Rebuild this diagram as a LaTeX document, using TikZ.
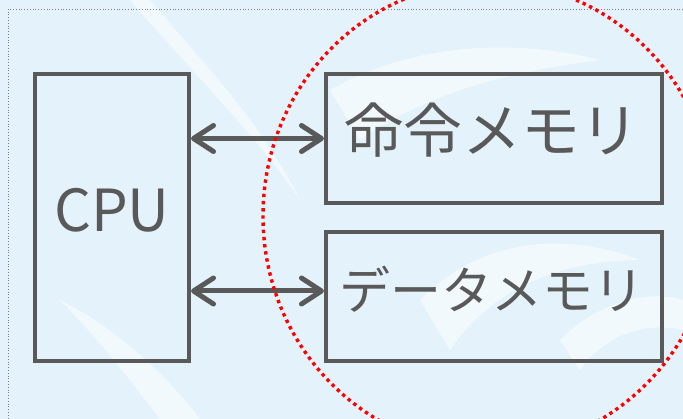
\documentclass[tikz,border=0pt]{standalone}
\usepackage{fontspec}
\newfontfamily\jp{Noto Sans CJK JP}
\usetikzlibrary{arrows.meta,calc}
\definecolor{bgblue}{HTML}{E4F3FB}
\definecolor{boxgray}{HTML}{595959}
\definecolor{dotred}{HTML}{FF0000}
\tikzset{
  membox/.style={draw=boxgray, line width=4pt, inner sep=0pt, minimum width=336pt, minimum height=129pt},
  lbl/.style={text=boxgray, inner sep=0pt, font=\jp},
  link/.style={draw=boxgray, line width=5pt, {Straight Barb[length=20pt,width=26pt,round]}-{Straight Barb[length=20pt,width=26pt,round]}},
  swirl/.style={fill=white, opacity=0.55, draw=none}
}
\begin{document}
\begin{tikzpicture}[x=1pt,y=-1pt]
\useasboundingbox (0,0) rectangle (683,419);
\fill[bgblue] (0,0) rectangle (683,419);
% faint background swirls
\fill[swirl] (150,0) .. controls (200,60) and (260,120) .. (300,200) .. controls (260,140) and (200,80) .. (130,0) -- cycle;
\fill[swirl] (330,90) .. controls (420,40) and (520,40) .. (600,60) .. controls (520,70) and (430,90) .. (360,140) -- cycle;
\fill[swirl] (420,300) .. controls (480,240) and (560,230) .. (640,260) .. controls (560,260) and (490,290) .. (450,350) -- cycle;
\fill[swirl] (60,300) .. controls (120,330) and (170,380) .. (200,419) -- (160,419) .. controls (130,380) and (100,340) .. (60,300) -- cycle;
\fill[swirl] (560,340) .. controls (600,300) and (650,290) .. (683,300) -- (683,330) .. controls (640,320) and (600,340) .. (580,370) -- cycle;
% dotted frame
\draw[gray, line width=0.8pt, dotted] (683,9) -- (8,9) -- (8,419);
% boxes
\node[draw=boxgray, line width=4pt, inner sep=0pt, minimum width=154pt, minimum height=287pt] (cpu) at (112,217.5) {};
\node[membox] (imem) at (494,138.5) {};
\node[membox] (dmem) at (494,296.5) {};
% texts
\node[lbl, font=\jp\fontsize{58}{58}\selectfont] (tcpu) at (112,210) {CPU};
\node[lbl, font=\jp\fontsize{59}{59}\selectfont] (timem) at (492,130) {命令メモリ};
\node[lbl, font=\jp\fontsize{51}{51}\selectfont] (tdmem) at (492,289) {データメモリ};
% connectors
\coordinate (da) at (dmem.west |- 0,291);
\draw[link] (cpu.east |- imem.west) -- (imem.west);
\draw[link] (cpu.east |- da) -- (da);
% red dotted ellipse
\draw[dotred, line width=3.4pt, dash pattern=on 3.4pt off 3.8pt] (489,216) ellipse [x radius=226, y radius=234];
\end{tikzpicture}
\end{document}
